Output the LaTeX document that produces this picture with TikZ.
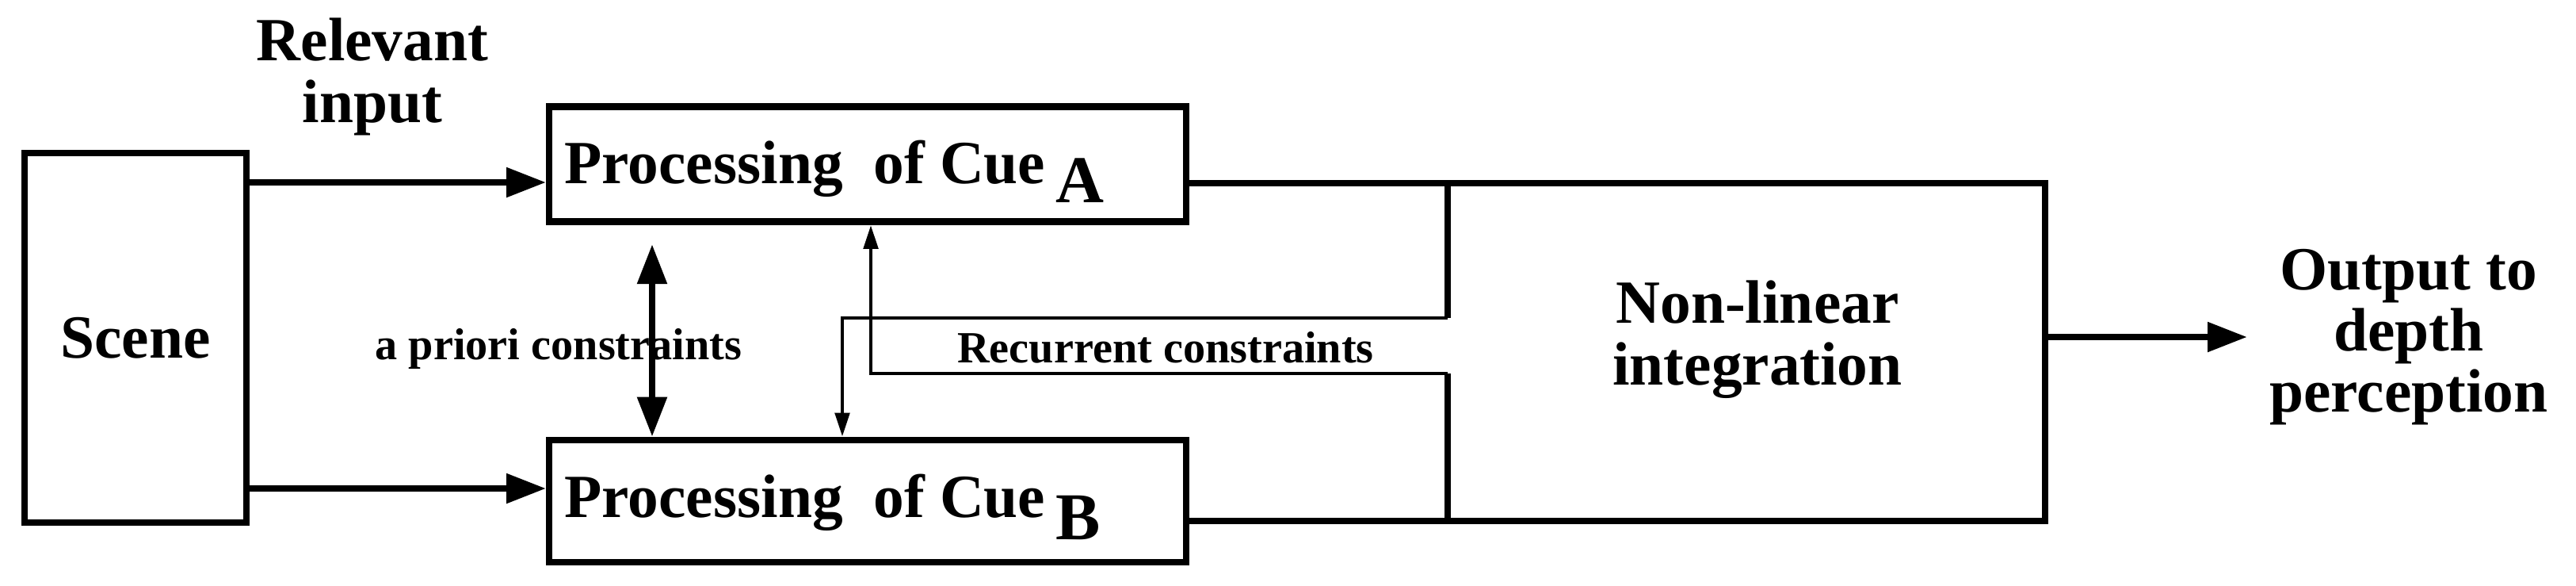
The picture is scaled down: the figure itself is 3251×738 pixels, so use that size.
\documentclass[tikz,border=0pt]{standalone}
\usepackage{fontspec}
\setmainfont{Liberation Serif}
\usetikzlibrary{arrows.meta}
\begin{document}
\begin{tikzpicture}[x=0.01cm,y=-0.01cm,
  box/.style={draw,line width=2.4pt,minimum width=#1,inner sep=0pt},
  big/.style={font=\bfseries\fontsize{22}{22}\selectfont,align=center},
  small/.style={font=\bfseries\fontsize{16}{19}\selectfont},
  thick line/.style={line width=2.4pt},
  thin line/.style={line width=1.4pt},
  bigarrow/.style={-{Triangle[length=0.5cm,width=0.36cm]}},
  smallarrow/.style={-{Triangle[length=0.3cm,width=0.18cm]}}]
\useasboundingbox (0,0) rectangle (3251,738);
\node[box, minimum width=2.8cm, minimum height=4.66cm, big] (scene) at (171,426) {Scene};
\node[box, minimum width=8.03cm, minimum height=1.45cm] (A) at (1095,207) {};
\node[box, minimum width=8.03cm, minimum height=1.54cm] (B) at (1095,632) {};
\node[big, anchor=base west, inner sep=0pt] (tA) at (712,231) {Processing\ \ of Cue\,\raisebox{-7pt}{\fontsize{24}{24}\selectfont A}};
\node[big, anchor=base west, inner sep=0pt] (tB) at (712,652) {Processing\ \ of Cue\,\raisebox{-8pt}{\fontsize{24}{24}\selectfont B}};
% non-linear box
\coordinate (nTL) at (1827,231);
\coordinate (nTR) at (2581,231);
\coordinate (nBR) at (2581,657);
\coordinate (nBL) at (1827,657);
\coordinate (r1) at (1827,401);
\coordinate (r2) at (1827,471);
\draw[thick line] (r1) -- (nTL) -- (nTR) -- (nBR) -- (nBL) -- (r2);
\node[big] (nl) at (2218,428) {Non-linear\\integration};
% A and B to NL
\draw[thick line] (A.east |- nTL) -- (nTL);
\draw[thick line] (B.east |- nBL) -- (nBL);
% recurrent
\coordinate (c1) at (1063,401);
\coordinate (c2) at (1099,471);
\draw[thin line, smallarrow] (r1) -- (c1) -- (c1 |- B.north);
\draw[thin line, smallarrow] (r2) -- (c2) -- (c2 |- A.south);
\node[small] (rc) at (1471,438) {Recurrent constraints};
% a priori
\coordinate (p1) at (823,308);
\draw[thick line, {Triangle[length=0.5cm,width=0.36cm]}-{Triangle[length=0.5cm,width=0.36cm]}] (p1) -- (p1 |- B.north);
\node[small] (ap) at (705,440) {a priori constraints};
% inputs
\draw[thick line, bigarrow] (scene.east |- 0,230) -- (A.west |- 0,230);
\draw[thick line, bigarrow] (scene.east |- 0,616) -- (B.west |- 0,616);
\node[big] (ri) at (470,97) {Relevant\\input};
% output
\coordinate (o1) at (2836,425);
\draw[thick line, bigarrow] (nTR |- o1) -- (o1);
\node[big] (out) at (3040,425) {Output to\\depth\\perception};
\end{tikzpicture}
\end{document}
